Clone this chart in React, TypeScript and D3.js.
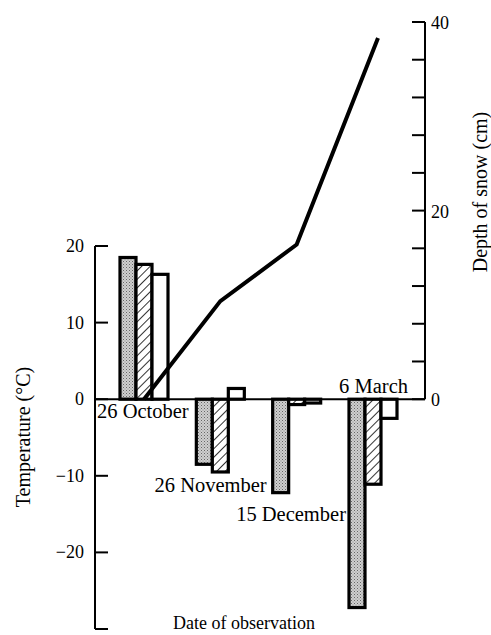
import React from 'react';
import * as d3 from 'd3';

const dates = ['26 October', '26 November', '15 December', '6 March'];
const stippled = [18.5, -8.5, -12.2, -27.2];
const hatched = [17.6, -9.5, -0.7, -11.1];
const open = [16.3, 1.4, -0.5, -2.5];
const snowDepth = [0, 10.4, 16.4, 38.3];
const tempTicks = [20, 10, 0, -10, -20, -30];
const tempLabels = [20, 10, 0, -10, -20];
const snowTicks = d3.range(0, 41, 4);
const snowLabels = [0, 20, 40];

const FONT = '"Liberation Serif", "DejaVu Serif", serif';

export default function App() {
  const W = 491, H = 635;
  const xL = 95, xR = 425;
  const yT = d3.scaleLinear().domain([-30, 20]).range([629, 246]);
  const yS = d3.scaleLinear().domain([0, 40]).range([yT(0), 22]);
  const xG = d3.scalePoint<string>().domain(dates).range([144, 373]);
  const xB = d3.scaleBand<string>().domain(['s', 'h', 'o']).range([-24, 24]);
  const bw = xB.bandwidth();
  const series = [
    { key: 's', vals: stippled, fill: 'url(#stipple)' },
    { key: 'h', vals: hatched, fill: 'url(#hatch)' },
    { key: 'o', vals: open, fill: '#fff' },
  ];
  const line = d3.line<number>()
    .x((_, i) => xG(dates[i])! + (i === dates.length - 1 ? 5 : 0))
    .y((d) => yS(d));
  const fmt = (v: number) => (v < 0 ? '\u2212' + Math.abs(v) : String(v));
  const gl = (i: number) => xG(dates[i])! + xB('s')!;
  const minBar = (i: number) => Math.min(stippled[i], hatched[i], open[i]);

  return (
    <svg width={W} height={H} style={{ position: 'absolute', left: 0, top: 0, background: '#fff' }}
      fontFamily={FONT}>
      <defs>
        <pattern id="stipple" width="3" height="3" patternUnits="userSpaceOnUse">
          <rect width="3" height="3" fill="#cfcfcf" />
          <rect x="0" y="0" width="1" height="1" fill="#666" />
          <rect x="1.5" y="1.5" width="1" height="1" fill="#888" />
        </pattern>
        <pattern id="hatch" width="6" height="6" patternUnits="userSpaceOnUse" patternTransform="rotate(45)">
          <rect width="6" height="6" fill="#fff" />
          <line x1="0" y1="0" x2="0" y2="6" stroke="#000" strokeWidth="1.6" />
        </pattern>
      </defs>

      {/* bars */}
      {series.map((s) => (
        <g key={s.key}>
          {s.vals.map((v, i) => {
            const x = xG(dates[i])! + xB(s.key)!;
            const y0 = yT(Math.max(0, v));
            const h = Math.abs(yT(v) - yT(0));
            return (
              <rect key={i} x={x} y={y0} width={bw} height={h} fill={s.fill}
                stroke="#000" strokeWidth={3.2} />
            );
          })}
        </g>
      ))}

      {/* zero line */}
      <line x1={xL} x2={xR} y1={yT(0)} y2={yT(0)} stroke="#000" strokeWidth={2} />

      {/* left axis */}
      <line x1={xL} x2={xL} y1={yT(20)} y2={yT(-30)} stroke="#000" strokeWidth={2} />
      {tempTicks.map((t) => (
        <line key={t} x1={xL} x2={xL + 13} y1={yT(t)} y2={yT(t)} stroke="#000" strokeWidth={2} />
      ))}
      {tempLabels.map((t) => (
        <text key={t} x={84} y={yT(t) + 6} textAnchor="end" fontSize={18}>{fmt(t)}</text>
      ))}

      {/* right axis */}
      <line x1={xR} x2={xR} y1={yS(40)} y2={yS(0)} stroke="#000" strokeWidth={2} />
      {snowTicks.map((t) => (
        <line key={t} x1={xR - 13} x2={xR} y1={yS(t)} y2={yS(t)} stroke="#000" strokeWidth={2} />
      ))}
      {snowLabels.map((t) => (
        <text key={t} x={431} y={yS(t) + 7} fontSize={18}>{t}</text>
      ))}

      {/* snow line */}
      <path d={line(snowDepth)!} fill="none" stroke="#000" strokeWidth={4} />

      {/* date labels */}
      <text x={xL + 2} y={yT(0) + 19} fontSize={20.5}>{dates[0]}</text>
      <text x={gl(2) - 6} y={yT(minBar(1)) + 20} textAnchor="end" fontSize={20.5}>{dates[1]}</text>
      <text x={gl(3) - 3} y={yT(minBar(2)) + 28} textAnchor="end" fontSize={20.5}>{dates[2]}</text>
      <text x={gl(3) + 59} y={yT(0) - 6} textAnchor="end" fontSize={20.5}>{dates[3]}</text>

      {/* axis titles */}
      <text transform={`translate(30,437) rotate(-90)`} textAnchor="middle" fontSize={20}>Temperature (°C)</text>
      <text transform={`translate(487,192) rotate(-90)`} textAnchor="middle" fontSize={20}>Depth of snow (cm)</text>
      <text x={244} y={629} textAnchor="middle" fontSize={18}>Date of observation</text>
    </svg>
  );
}
